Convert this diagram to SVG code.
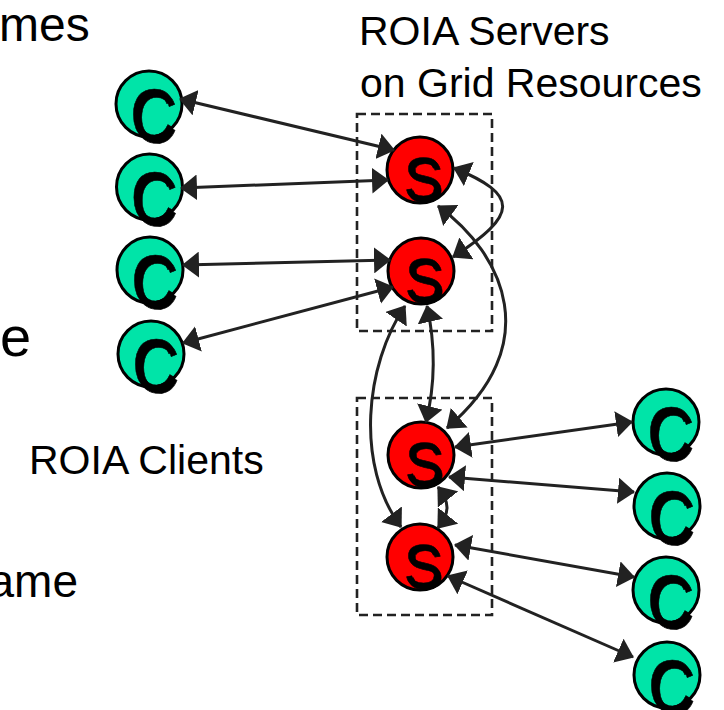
<svg xmlns="http://www.w3.org/2000/svg" width="724" height="710" viewBox="0 0 724 710">
  <defs>
    <style>
      .label { font-family: "Liberation Sans", Arial, sans-serif; fill: #000; }
      .cnode circle { fill: #00e4a8; stroke: #000; stroke-width: 3; }
      .snode circle { fill: #ff0000; stroke: #000; stroke-width: 3; }
      .glyph { font-family: "Liberation Sans", Arial, sans-serif; fill: #000; stroke: #000; stroke-width: 0.6; text-anchor: middle; }
      .cg { font-size: 72px; }
      .sg { font-size: 62px; }
      .zone { fill: none; stroke: #222; stroke-width: 2.6; stroke-dasharray: 9 5; }
      .link { fill: none; stroke: #222; stroke-width: 3; marker-start: url(#ah); marker-end: url(#ah); }
    </style>
    <marker id="ah" viewBox="0 -13 17 26" refX="16" refY="0" markerWidth="17" markerHeight="26" markerUnits="userSpaceOnUse" orient="auto-start-reverse">
      <path d="M0,-13 L17,0 L0,13 Z" fill="#222"/>
    </marker>
  </defs>

  <rect width="724" height="710" fill="#fff"/>

  <!-- text -->
  <g id="labels">
    <text class="label" x="-1" y="41" font-size="48">mes</text>
    <text class="label" x="0" y="356" font-size="56">e</text>
    <text class="label" x="-11.5" y="597" font-size="46">ame</text>
    <text class="label" x="359" y="45" font-size="41">ROIA Servers</text>
    <text class="label" x="360" y="97" font-size="41">on Grid Resources</text>
    <text class="label" x="29" y="474" font-size="41">ROIA Clients</text>
  </g>

  <!-- server groups on grid resources -->
  <g id="grid-resources">
    <rect class="zone" x="357" y="114" width="135" height="217"/>
    <rect class="zone" x="357" y="398" width="135" height="217"/>
  </g>

  <!-- clients, left -->
  <g id="client-l1" class="cnode">
    <circle cx="149" cy="104" r="33"/>
    <g transform="translate(152.5,140) scale(0.86,1)"><text class="glyph cg" x="3" y="3">C</text><text class="glyph cg">C</text></g>
  </g>
  <g id="client-l2" class="cnode">
    <circle cx="149.5" cy="187" r="33"/>
    <g transform="translate(153,223) scale(0.86,1)"><text class="glyph cg" x="3" y="3">C</text><text class="glyph cg">C</text></g>
  </g>
  <g id="client-l3" class="cnode">
    <circle cx="150" cy="270" r="33"/>
    <g transform="translate(153.5,306) scale(0.86,1)"><text class="glyph cg" x="3" y="3">C</text><text class="glyph cg">C</text></g>
  </g>
  <g id="client-l4" class="cnode">
    <circle cx="151" cy="354" r="33"/>
    <g transform="translate(154.5,390) scale(0.86,1)"><text class="glyph cg" x="3" y="3">C</text><text class="glyph cg">C</text></g>
  </g>

  <!-- clients, right -->
  <g id="client-r1" class="cnode">
    <circle cx="666" cy="422" r="33"/>
    <g transform="translate(669.5,458) scale(0.86,1)"><text class="glyph cg" x="3" y="3">C</text><text class="glyph cg">C</text></g>
  </g>
  <g id="client-r2" class="cnode">
    <circle cx="667" cy="506" r="33"/>
    <g transform="translate(670.5,542) scale(0.86,1)"><text class="glyph cg" x="3" y="3">C</text><text class="glyph cg">C</text></g>
  </g>
  <g id="client-r3" class="cnode">
    <circle cx="666" cy="590" r="33"/>
    <g transform="translate(669.5,626) scale(0.86,1)"><text class="glyph cg" x="3" y="3">C</text><text class="glyph cg">C</text></g>
  </g>
  <g id="client-r4" class="cnode">
    <circle cx="667" cy="675" r="33"/>
    <g transform="translate(670.5,711) scale(0.86,1)"><text class="glyph cg" x="3" y="3">C</text><text class="glyph cg">C</text></g>
  </g>

  <!-- servers -->
  <g id="server-1" class="snode">
    <circle cx="420" cy="170" r="33"/>
    <g transform="translate(423,200) scale(0.92,1)"><text class="glyph sg" x="2" y="2">S</text><text class="glyph sg">S</text></g>
  </g>
  <g id="server-2" class="snode">
    <circle cx="421" cy="271" r="33"/>
    <g transform="translate(424,301) scale(0.92,1)"><text class="glyph sg" x="2" y="2">S</text><text class="glyph sg">S</text></g>
  </g>
  <g id="server-3" class="snode">
    <circle cx="421" cy="455" r="33"/>
    <g transform="translate(424,485) scale(0.92,1)"><text class="glyph sg" x="2" y="2">S</text><text class="glyph sg">S</text></g>
  </g>
  <g id="server-4" class="snode">
    <circle cx="420" cy="557" r="33"/>
    <g transform="translate(423,587) scale(0.92,1)"><text class="glyph sg" x="2" y="2">S</text><text class="glyph sg">S</text></g>
  </g>

  <!-- connectors -->
  <g id="connectors">
    <path class="link" d="M180,99 L394,150"/>
    <path class="link" d="M181,188 L388,180"/>
    <path class="link" d="M183,265 L390,260"/>
    <path class="link" d="M183,343 L393,287"/>
    <path class="link" d="M454,168 C520,195 518,215 453,257"/>
    <path class="link" d="M438,206 C505,255 545,345 447,428"/>
    <path class="link" d="M427,306 Q440,365 426,422"/>
    <path class="link" d="M405,306 C365,365 355,465 401,527"/>
    <path class="link" d="M438,487 C450,502 450,513 438,528"/>
    <path class="link" d="M455,447 L632,422"/>
    <path class="link" d="M449,477 L634,492"/>
    <path class="link" d="M455,545 L634,577"/>
    <path class="link" d="M448,576 L633,657"/>
  </g>
</svg>
